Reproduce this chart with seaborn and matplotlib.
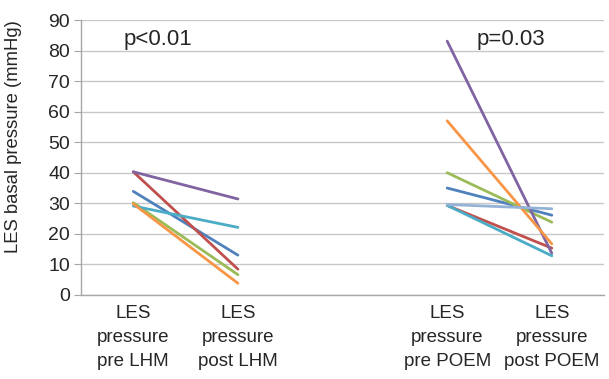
import matplotlib
matplotlib.use('Agg')
import matplotlib.pyplot as plt
import seaborn as sns
import pandas as pd

# categories on the x axis (the middle slot is left empty, like the original Excel chart)
categories = ['LES\npressure\npre LHM', 'LES\npressure\npost LHM', '',
              'LES\npressure\npre POEM', 'LES\npressure\npost POEM']

# LHM patients: pre / post values (mmHg)
lhm_pre = [33.9, 40.3, 30.2, 40.3, 29.1, 29.8]
lhm_post = [13.0, 8.4, 6.6, 31.4, 22.1, 3.8]

# POEM patients
poem_pre = [35.0, 29.3, 40.0, 83.1, 29.3, 57.0, 29.6]
poem_post = [26.1, 15.3, 23.8, 13.6, 12.8, 16.7, 28.2]

colors = ['#4F81BD', '#C0504D', '#9BBB59', '#8064A2', '#4BACC6', '#F79646', '#95B3D7']

rows = []
for i, (a, b) in enumerate(zip(lhm_pre, lhm_post)):
    rows.append(('LHM', i, 0, a))
    rows.append(('LHM', i, 1, b))
for i, (a, b) in enumerate(zip(poem_pre, poem_post)):
    rows.append(('POEM', i, 3, a))
    rows.append(('POEM', i, 4, b))
df = pd.DataFrame(rows, columns=['group', 'series', 'pos', 'value'])

sns.set_style('white')
plt.rcParams['font.family'] = ['Liberation Sans', 'DejaVu Sans']

fig = plt.figure(figsize=(6.09, 3.79), dpi=100)
ax = fig.add_axes([0.133, 0.222, 0.859, 0.725])

sns.lineplot(data=df, x='pos', y='value', hue='series', units='group',
             estimator=None, palette=colors, linewidth=2.0, legend=False, ax=ax)

ax.set_xlim(-0.5, 4.5)
ax.set_ylim(0, 90)
ax.set_yticks(range(0, 91, 10))
ax.yaxis.grid(True, color='#C8C8C8', linewidth=1)
ax.set_axisbelow(True)

ax.set_xticks([0, 1, 3, 4])
ax.set_xticklabels([categories[i] for i in [0, 1, 3, 4]], fontsize=13.5, linespacing=1.55)
ax.set_xticks([0.5, 1.5, 2.5, 3.5], minor=True)
ax.tick_params(axis='x', which='major', length=0, pad=7)
ax.tick_params(axis='x', which='minor', length=5, color='#A6A6A6', direction='out')
ax.tick_params(axis='y', labelsize=14, length=5, color='#A6A6A6', direction='out',
               left=True, pad=3)

for s in ['top', 'right']:
    ax.spines[s].set_visible(False)
for s in ['left', 'bottom']:
    ax.spines[s].set_color('#A6A6A6')
    ax.spines[s].set_linewidth(1)

ax.set_xlabel('')
ax.set_ylabel('LES basal pressure (mmHg)', fontsize=13.3)
ax.yaxis.set_label_coords(-0.113, 0.575)

ax.text(0.24, 83.5, 'p<0.01', fontsize=16, ha='center', va='center')
ax.text(3.61, 83.5, 'p=0.03', fontsize=16, ha='center', va='center')

fig.savefig('out.png', dpi=100)
